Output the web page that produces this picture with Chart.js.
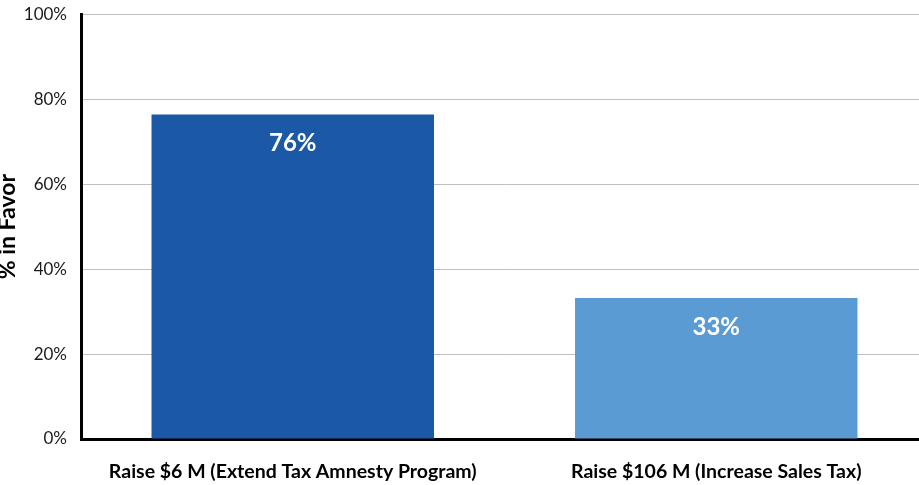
<!DOCTYPE html>
<html>
<head>
<meta charset="utf-8">
<script src="https://cdn.jsdelivr.net/npm/chart.js@4/dist/chart.umd.min.js"></script>
<style>
  html, body { margin: 0; padding: 0; background: #fff; overflow: hidden; }
  #wrap { position: absolute; left: -8px; top: -10px; width: 936px; height: 495px; }
</style>
</head>
<body>
<div id="wrap"><canvas id="favorChart"></canvas></div>
<script>
const categories = ['Raise $6 M (Extend Tax Amnesty Program)', 'Raise $106 M (Increase Sales Tax)'];
const favorValues = [76.4, 33.2];
const barColors = ['#1b59a7', '#5b9bd4'];
const yTicks = [0, 20, 40, 60, 80, 100];

// labels inside the top of each bar
const barLabelPlugin = {
  id: 'barLabels',
  afterDatasetsDraw(chart) {
    const { ctx } = chart;
    const meta = chart.getDatasetMeta(0);
    ctx.save();
    ctx.font = 'bold 24px Lato, sans-serif';
    ctx.fillStyle = '#ffffff';
    ctx.textAlign = 'center';
    ctx.textBaseline = 'middle';
    meta.data.forEach((bar, i) => {
      ctx.fillText(Math.round(favorValues[i]) + '%', bar.x, bar.y + 29);
    });
    ctx.restore();
  }
};

new Chart(document.getElementById('favorChart'), {
  type: 'bar',
  data: {
    labels: categories,
    datasets: [{
      data: favorValues,
      backgroundColor: barColors,
      borderWidth: 0,
      categoryPercentage: 1,
      barPercentage: 0.667
    }]
  },
  options: {
    responsive: true,
    maintainAspectRatio: false,
    animation: false,
    layout: { padding: { top: 6, right: 0, bottom: 0, left: 0 } },
    plugins: {
      legend: { display: false },
      tooltip: { enabled: false }
    },
    scales: {
      x: {
        grid: { display: false, drawTicks: false },
        border: { color: '#000', width: 3 },
        ticks: {
          color: '#000',
          padding: 21,
          maxRotation: 0,
          font: { family: 'Lato, sans-serif', size: 19.5, weight: 'bold' }
        },
        afterFit(scale) { scale.height = 46; }
      },
      y: {
        min: 0,
        max: 100,
        afterBuildTicks(scale) { scale.ticks = yTicks.map(v => ({ value: v })); },
        grid: { color: '#bfbfbf', lineWidth: 1, drawTicks: false },
        border: { color: '#000', width: 3 },
        ticks: {
          color: '#1a1a1a',
          padding: 14,
          font: { family: 'Lato, sans-serif', size: 17 },
          callback: v => v + '%'
        },
        title: {
          display: true,
          text: '% in Favor',
          color: '#000',
          padding: { top: 2, bottom: 0 },
          font: { family: 'Lato, sans-serif', size: 23, weight: 'bold' }
        },
        afterFit(scale) { scale.width = 89; }
      }
    }
  },
  plugins: [barLabelPlugin]
});
</script>
</body>
</html>
